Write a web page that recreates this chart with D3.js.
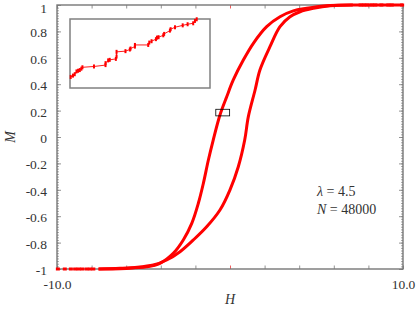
<!DOCTYPE html>
<html>
<head>
<meta charset="utf-8">
<script src="https://cdn.jsdelivr.net/npm/d3@7"></script>
<style>
  body { margin: 0; background: #fff; }
  svg text { font-family: "Liberation Serif", "DejaVu Serif", serif; }
</style>
</head>
<body>
<div id="wrapper"></div>
<script>
// decreasing-field branch (left)
const downH = [10.0, 7.1, 5.78, 5.01, 4.43, 3.66, 2.89, 2.12, 1.35, 0.77, 0.19, -0.19, -0.58, -0.97, -1.25, -1.54, -1.83, -2.21, -2.70, -3.28, -4.05, -4.82, -6.36, -7.6]
const downM = [1.0, 1.0, 0.996, 0.987, 0.975, 0.955, 0.911, 0.836, 0.71, 0.583, 0.432, 0.305, 0.167, -0.023, -0.174, -0.351, -0.502, -0.654, -0.78, -0.881, -0.957, -0.983, -0.995, -1.0]
// increasing-field branch (right)
const upH = [-7.6, -6.36, -5.59, -4.43, -3.66, -2.89, -2.12, -1.35, -0.58, 0.0, 0.48, 0.85, 1.06, 1.45, 1.73, 2.31, 2.89, 3.47, 4.05, 4.82, 5.78, 7.1]
const upM = [-1.0, -0.998, -0.99, -0.97, -0.932, -0.869, -0.78, -0.68, -0.553, -0.40, -0.225, -0.023, 0.154, 0.356, 0.508, 0.684, 0.836, 0.911, 0.949, 0.975, 0.995, 1.0]
// scattered saturation points
const satLowH = [-9.95, -9.55, -9.2, -8.95, -8.75, -8.55, -8.3, -8.1, -7.9]
const satHighH = [7.55, 7.75, 7.95, 8.2, 8.4, 8.75, 9.15, 9.35, 9.95]

// zoomed window
const boxH = [-0.85, -0.05]
const boxM = [0.16, 0.21]
const insetH = [-0.846, -0.833, -0.823, -0.813, -0.804, -0.794, -0.785, -0.779, -0.713, -0.647, -0.647, -0.632, -0.623, -0.588, -0.584, -0.584, -0.533, -0.508, -0.504, -0.479, -0.479, -0.403, -0.397, -0.384, -0.359, -0.353, -0.344, -0.317, -0.312, -0.279, -0.275, -0.25, -0.206, -0.178, -0.146, -0.136, -0.126]
const insetM = [0.168, 0.169, 0.170, 0.172, 0.1725, 0.173, 0.174, 0.175, 0.1756, 0.1766, 0.178, 0.180, 0.1804, 0.1811, 0.1828, 0.1862, 0.1867, 0.1879, 0.1886, 0.190, 0.1912, 0.1912, 0.1929, 0.1939, 0.1954, 0.1965, 0.1968, 0.1982, 0.1992, 0.2016, 0.2026, 0.204, 0.2054, 0.2062, 0.2069, 0.2086, 0.2098]

const yTicks = [-1, -0.8, -0.6, -0.4, -0.2, 0, 0.2, 0.4, 0.6, 0.8, 1]
const xTicks = [-10, -8, -6, -4, -2, 0, 2, 4, 6, 8, 10]
const xLabels = ["-10.0", "10.0"]

const dimensions = {
  width: 416,
  height: 309,
  margin: { top: 5, right: 13, bottom: 40, left: 57 }
}
dimensions.boundedWidth = dimensions.width - dimensions.margin.left - dimensions.margin.right
dimensions.boundedHeight = dimensions.height - dimensions.margin.top - dimensions.margin.bottom

const svg = d3.select("#wrapper")
  .append("svg")
  .attr("width", dimensions.width)
  .attr("height", dimensions.height)

const bounds = svg.append("g")
  .attr("transform", `translate(${dimensions.margin.left},${dimensions.margin.top})`)

const xScaler = d3.scaleLinear().domain([-10, 10]).range([0, dimensions.boundedWidth])
const yScaler = d3.scaleLinear().domain([-1, 1]).range([dimensions.boundedHeight, 0])

const axisColor = "#777"
const fmtY = d => (d === 0 || Math.abs(d) === 1) ? String(d) : (d < 0 ? "-" : "") + Math.abs(d).toFixed(1)

// minor y ticks, left and right
const minorY = d3.range(-50, 51).map(i => i / 50)
function styleAxis(g) {
  g.attr("font-family", null)
  g.select(".domain").remove()
  g.selectAll("line").attr("stroke", axisColor).attr("stroke-width", 0.8)
}
bounds.append("g").call(d3.axisLeft(yScaler).tickValues(minorY).tickSize(-1.8).tickFormat("")).call(styleAxis)
bounds.append("g").attr("transform", `translate(${dimensions.boundedWidth},0)`)
  .call(d3.axisRight(yScaler).tickValues(minorY).tickSize(-1.8).tickFormat("")).call(styleAxis)

const yAxis = bounds.append("g")
  .call(d3.axisLeft(yScaler).tickValues(yTicks).tickSize(-4).tickPadding(10).tickFormat(fmtY))
  .call(styleAxis)
yAxis.selectAll("text").attr("font-size", 13.5).attr("fill", "#333")
  .attr("dy", d => d === 1 ? "0.55em" : "0.4em")

bounds.append("g").attr("transform", `translate(${dimensions.boundedWidth},0)`)
  .call(d3.axisRight(yScaler).tickValues(yTicks).tickSize(-4).tickFormat("")).call(styleAxis)

const xAxis = bounds.append("g")
  .attr("transform", `translate(0,${dimensions.boundedHeight})`)
  .call(d3.axisBottom(xScaler).tickValues(xTicks).tickSize(-3.5).tickPadding(10)
    .tickFormat(d => d === -10 ? xLabels[0] : d === 10 ? xLabels[1] : ""))
  .call(styleAxis)
xAxis.selectAll("text").attr("font-size", 13.5).attr("fill", "#333")
xAxis.selectAll(".tick").filter(d => d === 0).select("line").attr("stroke", "#e33")

bounds.append("g")
  .call(d3.axisTop(xScaler).tickValues(xTicks).tickSize(-3.5).tickFormat("")).call(styleAxis)
  .selectAll(".tick").filter(d => d === 0).select("line").attr("stroke", "#e33")

// frame
bounds.append("rect")
  .attr("width", dimensions.boundedWidth)
  .attr("height", dimensions.boundedHeight)
  .attr("fill", "none")
  .attr("stroke", axisColor)
  .attr("stroke-width", 1.4)

// loop
const line = d3.line().x(d => xScaler(d[0])).y(d => yScaler(d[1])).curve(d3.curveCatmullRom.alpha(0.5))
const down = downH.map((h, i) => [h, downM[i]]).reverse()
const up = upH.map((h, i) => [h, upM[i]])
bounds.selectAll(".branch")
  .data([down, up])
  .enter()
  .append("path")
    .attr("class", "branch")
    .attr("d", line)
    .attr("fill", "none")
    .attr("stroke", "#ff0000")
    .attr("stroke-width", 3)

const sat = satLowH.map(h => [h, -1]).concat(satHighH.map(h => [h, 1]))
bounds.selectAll(".sat")
  .data(sat)
  .enter()
  .append("rect")
    .attr("class", "sat")
    .attr("x", d => xScaler(d[0]) - 2)
    .attr("y", d => yScaler(d[1]) - 1.5)
    .attr("width", 4)
    .attr("height", 3)
    .attr("fill", "#ff0000")

// zoom window marker
bounds.append("rect")
  .attr("x", xScaler(boxH[0]) + 0.5)
  .attr("y", yScaler(boxM[1]))
  .attr("width", xScaler(boxH[1]) - xScaler(boxH[0]))
  .attr("height", yScaler(boxM[0]) - yScaler(boxM[1]))
  .attr("fill", "none")
  .attr("stroke", "#000")
  .attr("stroke-width", 0.8)

// inset
const inset = { x: 70, y: 19, w: 140, h: 69 }
const ix = d3.scaleLinear().domain(boxH).range([inset.x, inset.x + inset.w])
const iy = d3.scaleLinear().domain(boxM).range([inset.y + inset.h, inset.y])
svg.append("rect")
  .attr("x", inset.x).attr("y", inset.y)
  .attr("width", inset.w).attr("height", inset.h)
  .attr("fill", "#fff")
  .attr("stroke", "#808080")
  .attr("stroke-width", 1.5)
const insetPts = insetH.map((h, i) => [h, insetM[i]])
svg.append("path")
  .attr("d", d3.line().x(d => ix(d[0])).y(d => iy(d[1]))([[boxH[0], insetM[0] - 0.0004]].concat(insetPts)))
  .attr("fill", "none")
  .attr("stroke", "#ff0000")
  .attr("stroke-width", 0.9)
svg.selectAll(".ipt")
  .data(insetPts)
  .enter()
  .append("rect")
    .attr("class", "ipt")
    .attr("x", d => ix(d[0]) - 1)
    .attr("y", d => iy(d[1]) - 2)
    .attr("width", 2)
    .attr("height", 4)
    .attr("fill", "#ff0000")

// labels
svg.append("text")
  .attr("x", dimensions.margin.left + dimensions.boundedWidth / 2)
  .attr("y", 304)
  .attr("text-anchor", "middle")
  .attr("font-size", 14)
  .attr("font-style", "italic")
  .attr("fill", "#333")
  .text("H")
svg.append("text")
  .attr("transform", `translate(15,${dimensions.margin.top + dimensions.boundedHeight / 2}) rotate(-90)`)
  .attr("text-anchor", "middle")
  .attr("font-size", 14)
  .attr("font-style", "italic")
  .attr("fill", "#333")
  .text("M")

const note = svg.append("g").attr("font-size", 14).attr("fill", "#333")
note.append("text").attr("x", 317).attr("y", 196)
  .html('<tspan font-style="italic">λ</tspan> = 4.5')
note.append("text").attr("x", 317).attr("y", 214)
  .html('<tspan font-style="italic">N</tspan> = 48000')
</script>
</body>
</html>
